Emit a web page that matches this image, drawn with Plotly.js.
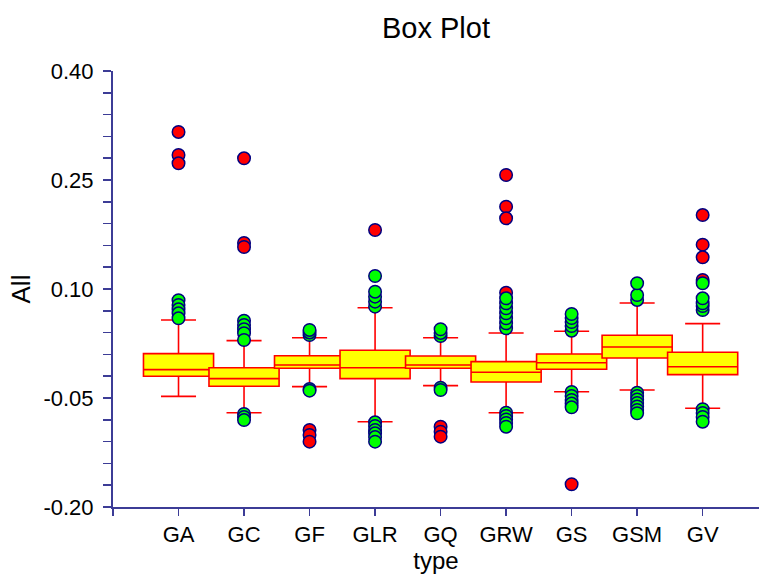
<!DOCTYPE html>
<html>
<head>
<meta charset="utf-8">
<script src="https://cdn.plot.ly/plotly-3.0.1.min.js"></script>
<style>
  html, body { margin: 0; padding: 0; background: #ffffff; }
  #chart { width: 759px; height: 574px; }
</style>
</head>
<body>
<div id="chart"></div>
<script>
// ---- data ----
var categories = ['GA', 'GC', 'GF', 'GLR', 'GQ', 'GRW', 'GS', 'GSM', 'GV'];

var q1         = [-0.0201, -0.0339, -0.0091, -0.0234, -0.0091, -0.0280, -0.0105,  0.0051, -0.0179];
var median     = [-0.0110, -0.0234, -0.0046, -0.0083, -0.0046, -0.0146, -0.0014,  0.0202, -0.0069];
var q3         = [ 0.0110, -0.0083,  0.0082,  0.0157,  0.0078,  0.0000,  0.0106,  0.0363,  0.0129];
var lowerFence = [-0.0477, -0.0702, -0.0344, -0.0826, -0.0330, -0.0702, -0.0413, -0.0390, -0.0642];
var upperFence = [ 0.0574,  0.0289,  0.0330,  0.0743,  0.0330,  0.0395,  0.0418,  0.0807,  0.0523];

// mild outliers (green)
var mildCat = [
  'GA','GA','GA','GA','GA',
  'GC','GC','GC','GC','GC','GC','GC','GC',
  'GF','GF','GF','GF','GF',
  'GLR','GLR','GLR','GLR','GLR','GLR','GLR','GLR','GLR','GLR','GLR',
  'GQ','GQ','GQ','GQ','GQ',
  'GRW','GRW','GRW','GRW','GRW','GRW','GRW','GRW','GRW','GRW','GRW','GRW',
  'GS','GS','GS','GS','GS','GS','GS','GS','GS','GS',
  'GSM','GSM','GSM','GSM','GSM','GSM','GSM','GSM','GSM','GSM',
  'GV','GV','GV','GV','GV','GV','GV','GV','GV'
];
var mildVal = [
  0.0845, 0.0780, 0.0721, 0.0666, 0.0597,
  0.0564, 0.0505, 0.0446, 0.0391, 0.0298, -0.0720, -0.0761, -0.0803,
  0.0367, 0.0402, 0.0436, -0.0376, -0.0399,
  0.0757, 0.0826, 0.0895, 0.0963, 0.1179, -0.0834, -0.0885, -0.0940, -0.0986, -0.1037, -0.1101,
  0.0353, 0.0395, 0.0446, -0.0358, -0.0390,
  0.0459, 0.0528, 0.0597, 0.0666, 0.0735, 0.0803, 0.0872, -0.0702, -0.0747, -0.0796, -0.0844, -0.0895,
  0.0426, 0.0491, 0.0546, 0.0601, 0.0656, -0.0417, -0.0472, -0.0527, -0.0576, -0.0628,
  0.0849, 0.0917, 0.1079, -0.0427, -0.0472, -0.0520, -0.0569, -0.0617, -0.0665, -0.0710,
  0.0711, 0.0766, 0.0803, 0.0872, 0.1079, -0.0655, -0.0706, -0.0761, -0.0826
];

// far outliers (red)
var farCat = [
  'GA','GA','GA',
  'GC','GC','GC',
  'GF','GF','GF',
  'GLR',
  'GQ','GQ','GQ',
  'GRW','GRW','GRW','GRW',
  'GS',
  'GV','GV','GV','GV'
];
var farVal = [
  0.3161, 0.2844, 0.2730,
  0.2799, 0.1633, 0.1578,
  -0.0940, -0.1009, -0.1101,
  0.1812,
  -0.0895, -0.0964, -0.1032,
  0.2569, 0.2133, 0.1973, 0.0949,
  -0.1687,
  0.2018, 0.1610, 0.1436, 0.1124
];

var yTickVals = [0.40, 0.25, 0.10, -0.05, -0.20];
var yTickText = ['0.40', '0.25', '0.10', '-0.05', '-0.20'];

// ---- styling ----
var axisColor = '#3c3c96';
var fontFam = 'Arial, "Liberation Sans", sans-serif';

function posOf(c) { return categories.indexOf(c) + 1; }

var traces = [];
categories.forEach(function (c, i) {
  traces.push({
    type: 'box',
    x: [i + 1],
    q1: [q1[i]],
    median: [median[i]],
    q3: [q3[i]],
    lowerfence: [lowerFence[i]],
    upperfence: [upperFence[i]],
    width: 1.07,
    whiskerwidth: 0.5,
    fillcolor: '#ffff00',
    line: { color: '#ff0000', width: 1.6 },
    boxpoints: false,
    hoverinfo: 'skip',
    showlegend: false
  });
});

traces.push({
  type: 'scatter',
  mode: 'markers',
  x: farCat.map(posOf),
  y: farVal,
  marker: { color: '#ff0000', size: 12.5, line: { color: '#000080', width: 1.5 } },
  showlegend: false,
  hoverinfo: 'skip'
});
traces.push({
  type: 'scatter',
  mode: 'markers',
  x: mildCat.map(posOf),
  y: mildVal,
  marker: { color: '#00ff00', size: 12.5, line: { color: '#000080', width: 1.5 } },
  showlegend: false,
  hoverinfo: 'skip'
});

var layout = {
  width: 759,
  height: 574,
  paper_bgcolor: '#ffffff',
  plot_bgcolor: '#ffffff',
  margin: { l: 113, r: 0, t: 71, b: 67 },
  font: { family: fontFam, color: '#000000', size: 22 },
  title: {
    text: 'Box Plot',
    font: { family: fontFam, size: 29, color: '#000000' },
    xref: 'paper', x: 0.5, xanchor: 'center',
    yref: 'container', y: 0.952, yanchor: 'middle'
  },
  showlegend: false,
  xaxis: {
    range: [0, 9.86],
    tickmode: 'array',
    tickvals: [0, 1, 2, 3, 4, 5, 6, 7, 8, 9],
    ticktext: [''].concat(categories),
    showline: true, linecolor: axisColor, linewidth: 2,
    ticks: 'outside', ticklen: 7, tickwidth: 1.5, tickcolor: axisColor,
    showgrid: false, zeroline: false,
    tickfont: { family: fontFam, size: 22, color: '#000000' },
    title: { text: 'type', font: { family: fontFam, size: 24, color: '#000000' }, standoff: 11 }
  },
  yaxis: {
    range: [-0.20, 0.40],
    tickmode: 'array',
    tickvals: yTickVals,
    ticktext: yTickText,
    showline: true, linecolor: axisColor, linewidth: 2,
    ticks: 'outside', ticklen: 8, tickwidth: 1.5, tickcolor: axisColor,
    ticklabelstandoff: 5,
    minor: { dtick: 0.03, tick0: -0.2, ticks: 'outside', ticklen: 8, tickwidth: 1.5, tickcolor: axisColor, showgrid: false },
    showgrid: false, zeroline: false,
    tickfont: { family: fontFam, size: 22, color: '#000000' },
    title: { text: 'All', font: { family: fontFam, size: 26, color: '#000000' }, standoff: 5 }
  }
};

Plotly.newPlot('chart', traces, layout, { displayModeBar: false, staticPlot: true });
</script>
</body>
</html>
